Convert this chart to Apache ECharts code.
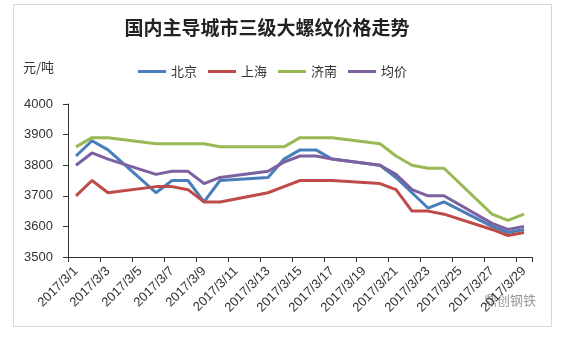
<!DOCTYPE html>
<html>
<head>
<meta charset="utf-8">
<script src="https://cdn.jsdelivr.net/npm/echarts@6/dist/echarts.min.js"></script>
<style>
  html, body { margin: 0; padding: 0; background: #fff; }
  #chart { width: 566px; height: 347px; }
</style>
</head>
<body>
<div id="chart"></div>
<script>
// Calendar days shown on the axis (March 2017)
const calendarDays = [];
for (let d = 1; d <= 29; d++) calendarDays.push('2017/3/' + d);

// Trading days with quotes (weekends have no price)
const tradeDays = ['2017/3/1','2017/3/2','2017/3/3','2017/3/6','2017/3/7','2017/3/8','2017/3/9','2017/3/10',
  '2017/3/13','2017/3/14','2017/3/15','2017/3/16','2017/3/17','2017/3/20','2017/3/21','2017/3/22',
  '2017/3/23','2017/3/24','2017/3/27','2017/3/28','2017/3/29'];

// Prices, 元/吨
const beijing  = [3830,3880,3850,3710,3750,3750,3680,3750,3760,3820,3850,3850,3820,3800,3760,3710,3660,3680,3600,3580,3590];
const shanghai = [3700,3750,3710,3730,3730,3720,3680,3680,3710,3730,3750,3750,3750,3740,3720,3650,3650,3640,3590,3570,3580];
const jinan    = [3860,3890,3890,3870,3870,3870,3870,3860,3860,3860,3890,3890,3890,3870,3830,3800,3790,3790,3640,3620,3640];
const average  = [3800,3840,3820,3770,3780,3780,3740,3760,3780,3810,3830,3830,3820,3800,3770,3720,3700,3700,3610,3590,3600];

const seriesNames = ['北京', '上海', '济南', '均价'];
const seriesValues = [beijing, shanghai, jinan, average];
const colors = ['#4A7EBB', '#BE4B48', '#98B954', '#7D60A0'];

const chart = echarts.init(document.getElementById('chart'), null, { renderer: 'canvas' });

chart.setOption({
  backgroundColor: '#fff',
  animation: false,
  color: colors,
  title: {
    text: '国内主导城市三级大螺纹价格走势',
    left: 262,
    textAlign: 'center',
    top: 13,
    textStyle: { fontFamily: 'Noto Sans CJK SC', fontSize: 19, fontWeight: 'bold', color: '#222' }
  },
  legend: {
    data: seriesNames,
    left: 133,
    top: 60,
    icon: 'rect',
    itemWidth: 28,
    itemHeight: 3,
    itemGap: 11,
    textStyle: { fontFamily: 'Noto Sans CJK SC', fontSize: 13, color: '#333' }
  },
  graphic: [
    {
      type: 'rect', z: -10, silent: true,
      shape: { x: 13.5, y: 4.5, width: 538, height: 322 },
      style: { fill: '#fff', stroke: '#d8d8d8', lineWidth: 1 }
    },
    {
      type: 'text', left: 23, top: 61,
      style: { text: '元/吨', font: '13px "Noto Sans CJK SC"', fill: '#333' }
    },
    {
      type: 'text', left: 484, top: 294,
      style: { text: '鼎创钢铁', font: '13px "Noto Sans CJK SC"', fill: '#999' }
    }
  ],
  grid: { left: 68, right: 34, top: 104, bottom: 90, containLabel: false },
  xAxis: {
    type: 'category',
    data: calendarDays,
    boundaryGap: true,
    axisLine: { lineStyle: { color: '#333', width: 1 } },
    axisTick: { show: true, interval: 1, length: 5, lineStyle: { color: '#333' } },
    axisLabel: {
      interval: 1, rotate: 45, margin: 12,
      fontFamily: 'Liberation Sans', fontSize: 13, color: '#333'
    },
    splitLine: { show: false }
  },
  yAxis: {
    type: 'value',
    min: 3500, max: 4000, interval: 100,
    axisLine: { show: true, lineStyle: { color: '#333', width: 1 } },
    axisTick: { show: true, length: 5, lineStyle: { color: '#333' } },
    axisLabel: {
      margin: 15, fontFamily: 'Liberation Sans', fontSize: 13, color: '#333',
      formatter: v => String(v)
    },
    splitLine: { show: false }
  },
  series: seriesNames.map((name, k) => ({
    name: name,
    type: 'line',
    data: tradeDays.map((d, i) => [d, seriesValues[k][i]]),
    showSymbol: false,
    symbol: 'none',
    lineStyle: { width: 3, color: colors[k] },
    itemStyle: { color: colors[k] }
  }))
});
</script>
</body>
</html>
